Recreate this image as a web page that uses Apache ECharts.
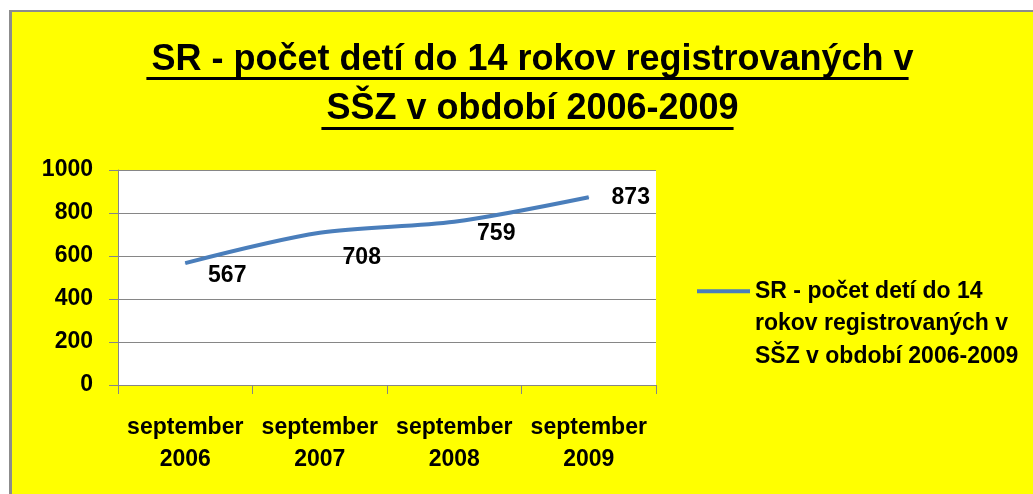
<!DOCTYPE html>
<html>
<head>
<meta charset="utf-8">
<script src="https://cdn.jsdelivr.net/npm/echarts@6/dist/echarts.min.js"></script>
<style>
  html, body { margin: 0; padding: 0; background: #fff; }
  #chart { width: 1033px; height: 494px; }
</style>
</head>
<body>
<div id="chart"></div>
<script>
const titleLines = ["SR - počet detí do 14 rokov registrovaných v", "SŠZ v období 2006-2009"];
const seriesName = "SR - počet detí do 14 rokov registrovaných v SŠZ v období 2006-2009";
const legendLines = ["SR - počet detí do 14", "rokov registrovaných v", "SŠZ v období 2006-2009"];
const categories = ["september\n2006", "september\n2007", "september\n2008", "september\n2009"];
const values = [567, 708, 759, 873];
const labelShift = [13, 25, 12, 0];

const FONT = '"Liberation Sans", Arial, sans-serif';
const chart = echarts.init(document.getElementById("chart"));

// title underline widths
const ctx = document.createElement("canvas").getContext("2d");
ctx.font = 'bold 36px "Liberation Sans"';
const cx = 527.5;
const underline = (text, y) => {
  const w = ctx.measureText(text).width;
  return { type: "rect", z: 10, shape: { x: cx - w / 2, y: y, width: w, height: 3 }, style: { fill: "#000" } };
};

const options = {
  backgroundColor: "#ffff00",
  animation: false,
  title: {
    text: titleLines.join("\n"),
    left: cx,
    textAlign: "center",
    top: 31,
    textStyle: { fontFamily: FONT, fontWeight: "bold", fontSize: 36, lineHeight: 49, color: "#000" },
  },
  graphic: [
    { type: "rect", z: -10, shape: { x: 0, y: 0, width: 1033, height: 10 }, style: { fill: "#fff" } },
    { type: "rect", z: -10, shape: { x: 0, y: 0, width: 9, height: 494 }, style: { fill: "#fff" } },
    { type: "rect", z: -10, shape: { x: 9, y: 10, width: 1024, height: 2 }, style: { fill: "#8c8c8c" } },
    { type: "rect", z: -10, shape: { x: 9, y: 10, width: 3, height: 484 }, style: { fill: "#8c8c8c" } },
    underline(titleLines[0], 77),
    underline(titleLines[1], 127),
  ],
  legend: {
    data: [seriesName],
    left: 697,
    top: 210,
    padding: 0,
    icon: "rect",
    itemWidth: 53,
    itemHeight: 4,
    selectedMode: false,
    // two empty lines first so the icon sits next to the first text line
    formatter: () => ["", ""].concat(legendLines).join("\n"),
    textStyle: {
      fontFamily: FONT,
      fontWeight: "bold",
      fontSize: 23,
      lineHeight: 32.5,
      color: "#000",
    },
  },
  grid: {
    left: 118,
    right: 377,
    top: 170,
    bottom: 109,
    show: true,
    backgroundColor: "#fff",
    borderWidth: 0,
  },
  xAxis: {
    type: "category",
    data: categories,
    boundaryGap: true,
    axisLine: { lineStyle: { color: "#868686", width: 1 } },
    axisTick: { show: true, interval: 0, length: 9, lineStyle: { color: "#868686" } },
    axisLabel: {
      interval: 0,
      margin: 27,
      fontFamily: FONT,
      fontWeight: "bold",
      fontSize: 23,
      lineHeight: 32,
      color: "#000",
    },
  },
  yAxis: {
    type: "value",
    min: 0,
    max: 1000,
    interval: 200,
    axisLine: { show: true, lineStyle: { color: "#868686", width: 1 } },
    axisTick: { show: true, length: 9, lineStyle: { color: "#868686" } },
    splitLine: { show: true, lineStyle: { color: "#868686", width: 1 } },
    axisLabel: {
      margin: 25,
      formatter: (v) => String(v),
      fontFamily: FONT,
      fontWeight: "bold",
      fontSize: 23,
      color: "#000",
    },
  },
  series: [
    {
      name: seriesName,
      type: "line",
      data: values.map((v, i) => ({ value: v, label: { offset: [42, labelShift[i]] } })),
      smooth: 0.3,
      symbol: "circle",
      symbolSize: 1,
      showSymbol: true,
      color: "#4a7ebb",
      lineStyle: { color: "#4a7ebb", width: 4 },
      label: {
        show: true,
        position: "inside",
        fontFamily: FONT,
        fontWeight: "bold",
        fontSize: 23,
        color: "#000",
      },
    },
  ],
};

chart.setOption(options);
</script>
</body>
</html>
